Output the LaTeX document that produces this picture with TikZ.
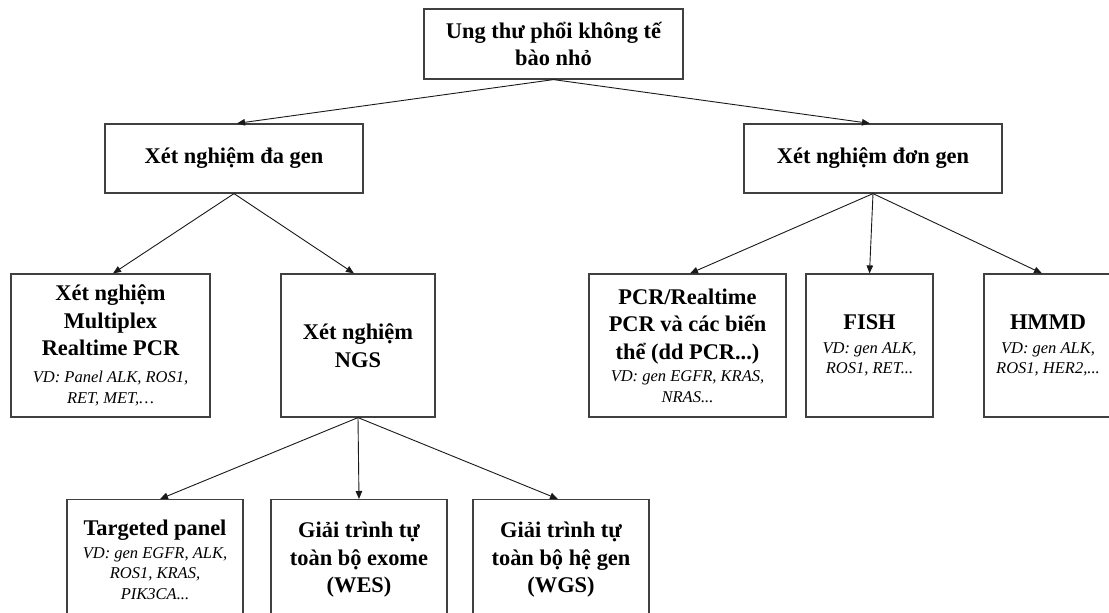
\documentclass[tikz,border=0pt]{standalone}
\usepackage{fontspec}
\setmainfont{Liberation Serif}
\usetikzlibrary{arrows.meta}
% heading lines (bold) and example lines (italic, smaller)
\newcommand\hdfont{\fontsize{22.4}{27.5}\selectfont\bfseries}
\newcommand\exfont{\fontsize{16.5}{20.4}\selectfont\mdseries\itshape}
\tikzset{
  box/.style={draw=black!75, line width=1.2pt, align=center, inner sep=0pt, font=\hdfont},
  link/.style={draw=black!90, line width=0.9pt, -{Triangle[length=8pt,width=6.5pt]}},
}
\begin{document}
\begin{tikzpicture}[x=1pt, y=-1pt]
\useasboundingbox (0,0) rectangle (1109,613);
\clip (0,0) rectangle (1109,613);

% root
\node[box, minimum width=259pt, minimum height=70pt] (top) at (553.5,44)
  {Ung thư phổi không tế\\bào nhỏ};

% first level
\node[box, minimum width=258pt, minimum height=69pt] (dagen) at (234,158.5)
  {Xét nghiệm đa gen};
\node[box, minimum width=258pt, minimum height=69pt] (dongen) at (873,158.5)
  {Xét nghiệm đơn gen};

% second level
\node[box, minimum width=199pt, minimum height=143pt] (multi) at (110.5,345.5)
  {Xét nghiệm\\Multiplex\\Realtime PCR\\[-0.5pt]
   {\exfont VD: Panel ALK, ROS1,}\\[-7pt]{\exfont RET, MET,…}};
\node[box, minimum width=154pt, minimum height=143pt] (ngs) at (358,345.5)
  {Xét nghiệm\\NGS};
\node[box, minimum width=197pt, minimum height=143pt] (pcr) at (687.5,345.5)
  {PCR/Realtime\\PCR và các biến\\thể (dd PCR...)\\[-5pt]
   {\exfont VD: gen EGFR, KRAS,}\\[-7pt]{\exfont NRAS...}};
\node[box, minimum width=127pt, minimum height=143pt] (fish) at (869.5,345.5)
  {FISH\\[-3.5pt]{\exfont VD: gen ALK,}\\[-7pt]{\exfont ROS1, RET...}};
\node[box, minimum width=128pt, minimum height=143pt] (hmmd) at (1048,345.5)
  {HMMD\\[-3.5pt]{\exfont VD: gen ALK,}\\[-7pt]{\exfont ROS1, HER2,...}};

% third level (NGS methods)
\node[box, anchor=north, minimum width=176pt, minimum height=120pt] (target) at (155,499)
  {Targeted panel\\[-4.5pt]{\exfont VD: gen EGFR, ALK,}\\[-7pt]
   {\exfont ROS1, KRAS,}\\[-7pt]{\exfont PIK3CA...}};
\node[box, anchor=north, minimum width=176pt, minimum height=120pt] (wes) at (359,499)
  {Giải trình tự\\toàn bộ exome\\(WES)};
\node[box, anchor=north, minimum width=176pt, minimum height=120pt] (wgs) at (561,499)
  {Giải trình tự\\toàn bộ hệ gen\\(WGS)};

% connectors
\draw[link] (top.south) -- ([xshift=3pt]dagen.north);
\draw[link] (top.south) -- ([xshift=-3pt]dongen.north);
\draw[link] (dagen.south) -- ([xshift=2.5pt]multi.north);
\draw[link] (dagen.south) -- ([xshift=-4pt]ngs.north);
\draw[link] (dongen.south) -- ([xshift=2.5pt]pcr.north);
\draw[link] (dongen.south) -- (fish.north);
\draw[link] (dongen.south) -- ([xshift=-6pt]hmmd.north);
\draw[link] (ngs.south) -- ([xshift=5pt]target.north);
\draw[link] (ngs.south) -- (wes.north);
\draw[link] (ngs.south) -- ([xshift=-3pt]wgs.north);
\end{tikzpicture}
\end{document}
